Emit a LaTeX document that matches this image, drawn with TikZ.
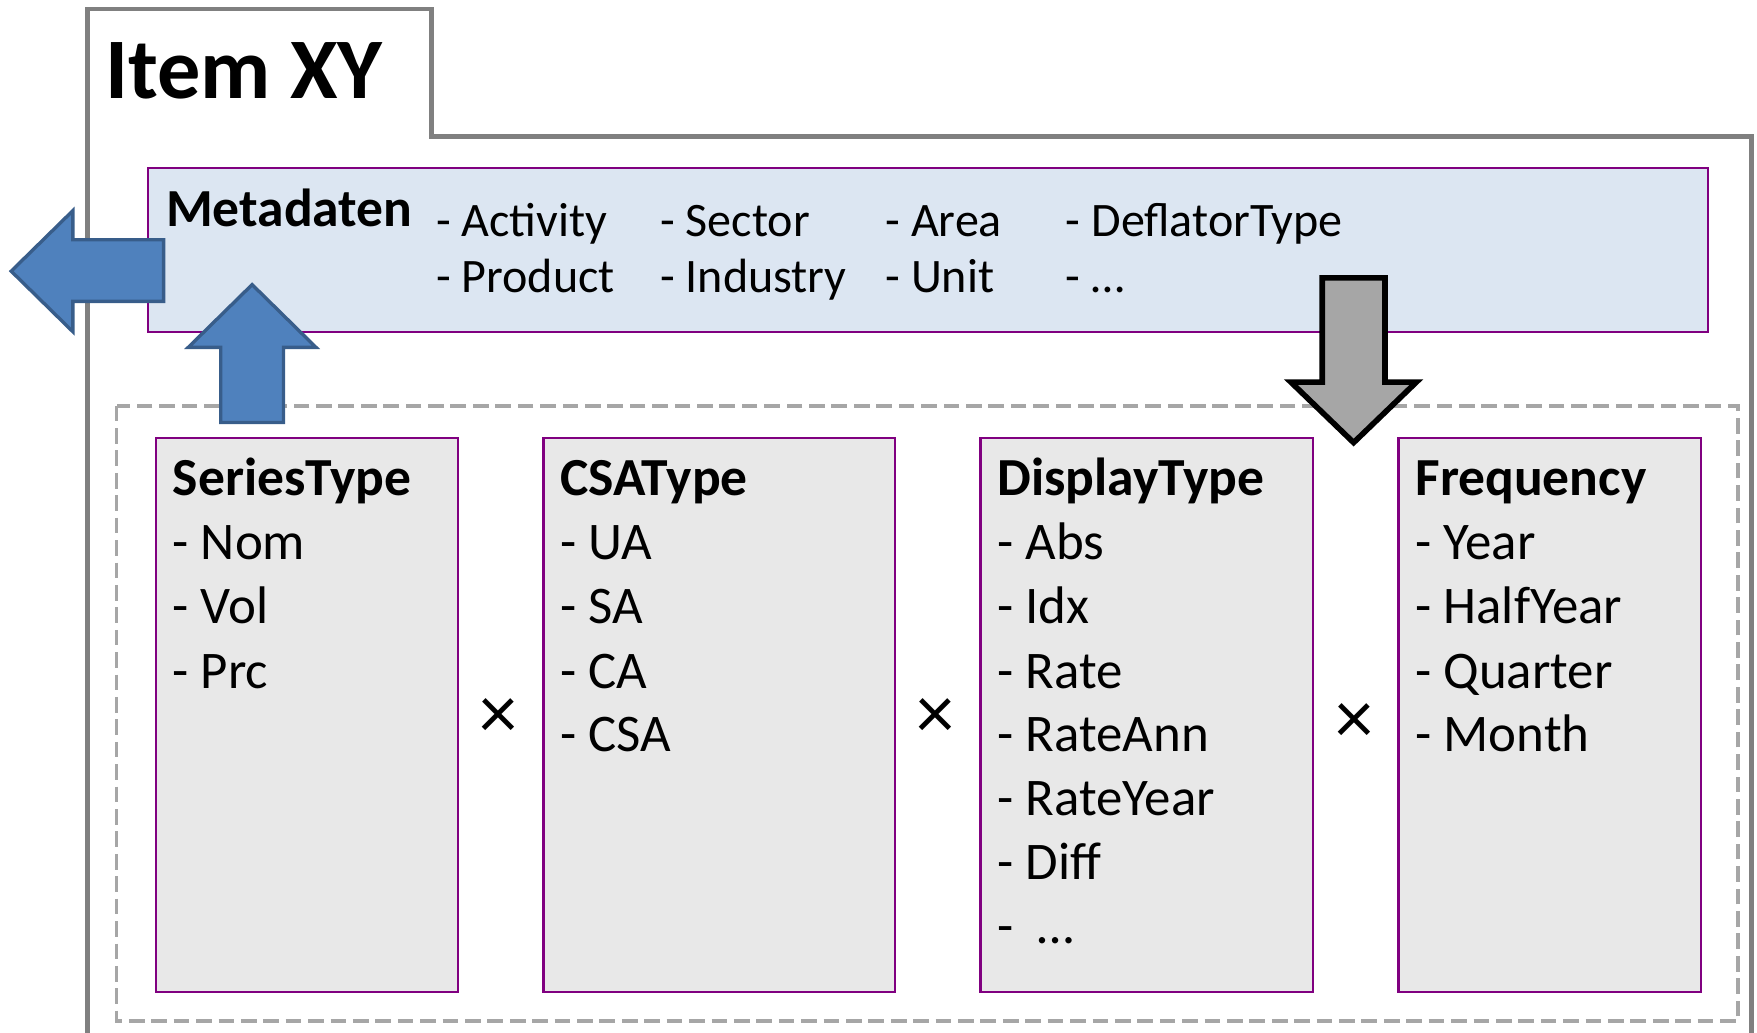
\documentclass[tikz,border=0pt]{standalone}
\usepackage{fontspec}
\setmainfont{Carlito}
\definecolor{framegray}{HTML}{808080}
\definecolor{dashgray}{HTML}{A6A6A6}
\definecolor{metafill}{HTML}{DCE6F2}
\definecolor{boxfill}{HTML}{E8E8E8}
\definecolor{boxline}{HTML}{800080}
\definecolor{arrowblue}{HTML}{4F81BD}
\definecolor{arrowblueline}{HTML}{385D8A}
\definecolor{arrowgray}{HTML}{A6A6A6}
\begin{document}
\begin{tikzpicture}[x=1pt,y=-1pt,
  frameline/.style={draw=framegray,line width=4pt,line join=miter},
  metabox/.style={draw=boxline,fill=metafill,line width=2pt,anchor=north west,inner sep=0pt},
  catbox/.style={draw=boxline,fill=boxfill,line width=2pt,anchor=north west,inner sep=0pt,minimum height=494pt},
  dashbox/.style={draw=dashgray,line width=3.5pt,dash pattern=on 14pt off 6pt},
  bluearrow/.style={fill=arrowblue,draw=arrowblueline,line width=3pt,line join=miter},
  grayarrow/.style={fill=arrowgray,draw=black,line width=5pt,line join=miter},
  txt/.style={anchor=base west,inner sep=0pt,font=\fontsize{47.2}{52}\selectfont},
  mtxt/.style={anchor=base west,inner sep=0pt,font=\fontsize{42.9}{48}\selectfont},
  ttl/.style={anchor=base west,inner sep=0pt,font=\fontsize{47.8}{52}\selectfont\bfseries},
  times/.style={anchor=center,inner sep=0pt,font=\fontsize{68}{72}\selectfont}]
\useasboundingbox (0,0) rectangle (1568,921);
\begin{scope}
\clip (0,0) rectangle (1568,921);
\draw[frameline] (78,940) -- (78,8) -- (385,8) -- (385,122) -- (1563,122) -- (1563,940);
\end{scope}
\node[anchor=base west,inner sep=0pt,font=\fontsize{77}{82}\selectfont\bfseries] (title) at (94,88) {Item XY};
% metadata box
\node[metabox,minimum width=1392pt,minimum height=146pt] (meta) at (131,149) {};
\node[ttl] (metattl) at (148,202) {Metadaten};
\node[mtxt] (m1) at (389,211) {- Activity};
\node[mtxt] (m2) at (389,261) {- Product};
\node[mtxt] (m3) at (589,211) {- Sector};
\node[mtxt] (m4) at (589,261) {- Industry};
\node[mtxt] (m5) at (790,211) {- Area};
\node[mtxt] (m6) at (790,261) {- Unit};
\node[mtxt] (m7) at (951,211) {- DeflatorType};
\node[mtxt] (m8) at (951,261) {- …};
% dashed group
\draw[dashbox] (104,362) rectangle (1551,911);
\node[catbox,minimum width=270pt] (b1) at (138,390) {};
\node[catbox,minimum width=314pt] (b2) at (484,390) {};
\node[catbox,minimum width=297pt] (b3) at (874,390) {};
\node[catbox,minimum width=270pt] (b4) at (1247,390) {};
% box 1
\node[ttl] (t1) at (154,442) {SeriesType};
\node[txt] (a1) at (154,499) {- Nom};
\node[txt] (a2) at (154,556) {- Vol};
\node[txt] (a3) at (154,614) {- Prc};
% box 2
\node[ttl] (t2) at (500,442) {CSAType};
\node[txt] (c1) at (500,499) {- UA};
\node[txt] (c2) at (500,556) {- SA};
\node[txt] (c3) at (500,614) {- CA};
\node[txt] (c4) at (500,671) {- CSA};
% box 3
\node[ttl] (t3) at (890,442) {DisplayType};
\node[txt] (d1) at (890,499) {- Abs};
\node[txt] (d2) at (890,556) {- Idx};
\node[txt] (d3) at (890,614) {- Rate};
\node[txt] (d4) at (890,671) {- RateAnn};
\node[txt] (d5) at (890,728) {- RateYear};
\node[txt] (d6) at (890,785) {- Diff};
\node[txt] (d7) at (890,842) {-\ \ …};
% box 4
\node[ttl] (t4) at (1263,442) {Frequency};
\node[txt] (f1) at (1263,499) {- Year};
\node[txt] (f2) at (1263,556) {- HalfYear};
\node[txt] (f3) at (1263,614) {- Quarter};
\node[txt] (f4) at (1263,671) {- Month};
% times signs
\node[times] (x1) at (445,641) {×};
\node[times] (x2) at (835,641) {×};
\node[times] (x3) at (1209,646) {×};
% arrows
\draw[bluearrow] (10,242) -- (65,188) -- (65,214) -- (146,214) -- (146,269) -- (65,269) -- (65,296) -- cycle;
\draw[bluearrow] (225,254) -- (282,310) -- (253,310) -- (253,377) -- (197,377) -- (197,310) -- (168,310) -- cycle;
\draw[grayarrow] (1180,248) -- (1236,248) -- (1236,341) -- (1264,341) -- (1208,395) -- (1152,341) -- (1180,341) -- cycle;
\end{tikzpicture}
\end{document}
